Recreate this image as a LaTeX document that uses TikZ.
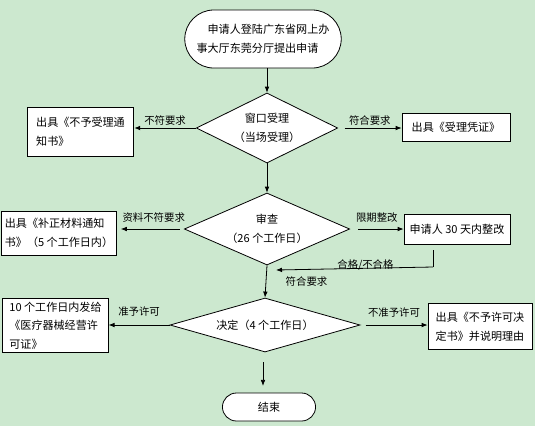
\documentclass[tikz,border=0pt]{standalone}
\usepackage{fontspec}
\setmainfont{Noto Sans CJK SC}
\usetikzlibrary{shapes.geometric, shapes.misc, arrows.meta}
\definecolor{bg-green}{HTML}{CCE8CF}

\begin{document}
\begin{tikzpicture}[x=0.75pt, y=-0.75pt,
      every node/.style={font=\fontsize{8.3}{14}\selectfont},
      >={Latex[length=4.5pt, width=3.5pt]},
      startstop/.style={draw, fill=white, rounded rectangle, align=center},
      decision/.style={draw, fill=white, diamond, inner sep=1pt, align=center},
      infobox/.style={draw, fill=white, rectangle, align=left,
        inner xsep=2.5pt, inner ysep=2pt},
      lbl/.style={font=\fontsize{7.8}{10}\selectfont, inner sep=1.5pt},
      every path/.style={line width=0.6pt}]
    \fill[bg-green] (0,0) rectangle (535,426);
    \useasboundingbox (0,0) rectangle (535,426);

    \node[startstop, minimum width=124pt, minimum height=43.5pt, align=left] (apply) at (263,39)
          {\hspace*{1em}申请人登陆广东省网上办\\事大厅东莞分厅提出申请};
    \node[decision, aspect=2, minimum width=106pt, minimum height=52.5pt] (window) at (267,128)
          {窗口受理\\（当场受理）};
    \node[infobox, minimum width=80pt, minimum height=37pt] (reject) at (80.5,132)
          {出具《不予受理通\\知书》};
    \node[infobox, minimum width=81pt, minimum height=21pt] (receipt) at (456,127)
          {出具《受理凭证》};
    \node[decision, aspect=2.3, minimum width=124pt, minimum height=54pt] (review) at (267,229)
          {审查\\（26 个工作日）};
    \node[infobox, minimum width=85.5pt, minimum height=33pt] (supplement) at (59,233)
          {出具《补正材料通知\\书》（5 个工作日内）};
    \node[infobox, minimum width=79.5pt, minimum height=22.5pt] (rectify) at (457,229)
          {申请人 30 天内整改};
    \node[decision, aspect=3.5, minimum width=142.5pt, minimum height=40.5pt] (decide) at (265,325)
          {决定（4 个工作日）};
    \node[infobox, minimum width=79pt, minimum height=40pt] (license) at (55.5,325.5)
          {10 个工作日内发给\\《医疗器械经营许\\可证》};
    \node[infobox, minimum width=78pt, minimum height=34pt] (refuse) at (480,326.5)
          {出具《不予许可决\\定书》并说明理由};
    \node[startstop, minimum width=76.5pt, minimum height=21pt] (finish) at (269,407) {结束};

    % main flow
    \draw[->] (apply.south -| window.north) -- (window.north);
    \draw[->] (window.south) -- (review.north);
    \draw[->] (review.south) -- (decide.north)
          node[lbl, midway, right=13pt] {符合要求};
    \draw[->, shorten <=7.5pt, shorten >=5pt] (decide.south -| 263,0) -- (finish.north -| 263,0);

    % side branches
    \draw[->] (window.west) -- (window.west -| reject.east)
          node[lbl, midway, above] {不符要求};
    \draw[->, shorten <=5pt] (window.east) -- (window.east -| receipt.west)
          node[lbl, midway, above] {符合要求};
    \draw[->, shorten <=3pt, shorten >=3pt] (review.west) -- (review.west -| supplement.east)
          node[lbl, pos=0.45, above=3pt] {资料不符要求};
    \draw[->, shorten <=6pt] (review.east) -- (rectify.west)
          node[lbl, midway, above=3pt] {限期整改};
    \draw[->] (decide.west) -- (decide.west -| license.east)
          node[lbl, midway, above=5pt] {准予许可};
    \draw[->, shorten <=4pt] (decide.east) -- (decide.east -| refuse.west)
          node[lbl, midway, above=4pt] {不准予许可};

    % back to review
    \coordinate (fbdrop) at (433,267);
    \coordinate (fbend) at (276,270);
    \draw[shorten <=4.5pt] (rectify.south -| fbdrop) -- (fbdrop);
    \draw[->] (fbdrop) -- (fbend)
          node[lbl, pos=0.43, yshift=2.5pt] {合格/不合格};
  \end{tikzpicture}
\end{document}
